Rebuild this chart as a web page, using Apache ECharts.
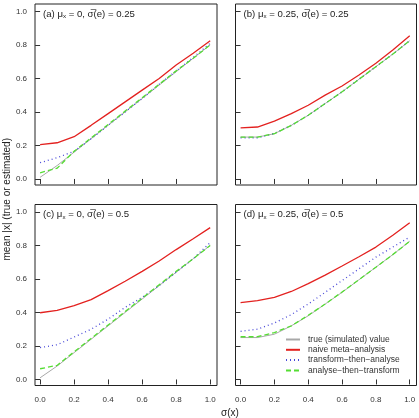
<!DOCTYPE html>
<html><head><meta charset="utf-8">
<script src="https://cdn.jsdelivr.net/npm/echarts@6/dist/echarts.min.js"></script>
<style>html,body{margin:0;padding:0;background:#fff}#c{width:419px;height:418px}</style>
</head><body><div id="c"></div>
<script>
const sigma = [0,0.1,0.2,0.3,0.4,0.5,0.6,0.7,0.8,0.9,1.0];
const tickVals = [0,0.2,0.4,0.6,0.8,1.0];
const topXTicks = [0,0.2,0.4,0.6,0.8];
const seriesNames = ['true (simulated) value','naive meta\u2212analysis','transform\u2212then\u2212analyse','analyse\u2212then\u2212transform'];
const panelTitles = ['(a) \u03bc{s|x} = 0, \u03c3\u0305(e) = 0.25','(b) \u03bc{s|x} = 0.25, \u03c3\u0305(e) = 0.25','(c) \u03bc{s|x} = 0, \u03c3\u0305(e) = 0.5','(d) \u03bc{s|x} = 0.25, \u03c3\u0305(e) = 0.5'];

const trueA  = [0.01,0.08,0.16,0.24,0.32,0.40,0.48,0.56,0.64,0.72,0.80];
const naiveA = [0.205,0.216,0.252,0.32,0.39,0.46,0.53,0.60,0.68,0.75,0.825];
const transA = [0.097,0.127,0.165,0.24,0.32,0.40,0.48,0.565,0.645,0.725,0.81];
const analA  = [0.037,0.064,0.165,0.245,0.325,0.405,0.485,0.565,0.645,0.72,0.80];

const trueB  = [0.25,0.25,0.27,0.32,0.38,0.45,0.52,0.595,0.67,0.745,0.825];
const naiveB = [0.305,0.31,0.345,0.39,0.44,0.50,0.555,0.62,0.69,0.77,0.855];
const transB = [0.245,0.245,0.272,0.32,0.38,0.45,0.52,0.595,0.67,0.745,0.825];
const analB  = [0.25,0.25,0.27,0.32,0.38,0.45,0.52,0.595,0.67,0.745,0.825];

const trueC  = [0.01,0.08,0.16,0.24,0.32,0.40,0.48,0.56,0.64,0.72,0.80];
const naiveC = [0.398,0.412,0.44,0.476,0.53,0.586,0.645,0.707,0.775,0.84,0.906];
const transC = [0.19,0.207,0.253,0.30,0.36,0.43,0.49,0.56,0.64,0.72,0.817];
const analC  = [0.064,0.084,0.165,0.245,0.325,0.405,0.485,0.565,0.645,0.72,0.80];

const trueD  = [0.25,0.25,0.27,0.32,0.38,0.45,0.52,0.595,0.67,0.745,0.825];
const naiveD = [0.458,0.47,0.49,0.525,0.572,0.623,0.677,0.732,0.79,0.86,0.935];
const transD = [0.287,0.30,0.337,0.387,0.45,0.52,0.59,0.66,0.73,0.79,0.85];
const analD  = [0.255,0.255,0.28,0.32,0.383,0.45,0.522,0.595,0.67,0.745,0.825];

const panels = [[trueA,naiveA,transA,analA],[trueB,naiveB,transB,analB],[trueC,naiveC,transC,analC],[trueD,naiveD,transD,analD]];

const FONT = 'Liberation Sans, Arial, sans-serif';
const lineStyles = [
  {color:'#a8a8a8', width:1, type:'solid'},
  {color:'#e3211f', width:1.3, type:'solid'},
  {color:'#4848d8', width:1.3, type:[1,3]},
  {color:'#55dd33', width:1.3, type:[5,3]}
];
const gridPos = [
  {left:35, top:4, width:182, height:181},
  {left:235.5, top:4, width:181, height:181},
  {left:35, top:204.5, width:182, height:181},
  {left:235.5, top:204.5, width:181, height:181}
];
const grids = [], xAxes = [], yAxes = [], series = [], graphics = [];
gridPos.forEach((g,i)=>{
  grids.push(Object.assign({show:true, borderColor:'#222', borderWidth:1, backgroundColor:'transparent'}, g));
  const bottomRow = i>=2, leftCol = (i%2===0);
  xAxes.push({type:'value', gridIndex:i, min:-0.03, max:1.04,
    axisLine:{show:false}, splitLine:{show:false},
    axisTick:{show:true, length:5, customValues: bottomRow?tickVals:topXTicks, lineStyle:{color:'#333'}},
    axisLabel:{show:bottomRow, customValues:tickVals, margin:10, fontSize:8, color:'#333', fontFamily:FONT, formatter:v=>v.toFixed(1)}
  });
  yAxes.push({type:'value', gridIndex:i, min:-0.036, max:1.044,
    axisLine:{show:false}, splitLine:{show:false},
    axisTick:{show:true, length:5, customValues:tickVals, lineStyle:{color:'#333'}},
    axisLabel:{show:leftCol, customValues:tickVals, margin:8, fontSize:8, color:'#333', fontFamily:FONT, formatter:v=>v.toFixed(1)}
  });
  panels[i].forEach((arr,k)=>{
    series.push({type:'line', name:seriesNames[k], xAxisIndex:i, yAxisIndex:i,
      data: sigma.map((s,j)=>[s,arr[j]]), symbol:'none', smooth:false,
      lineStyle:lineStyles[k], itemStyle:{color:lineStyles[k].color}, z: k===0?2:3+k, animation:false});
  });
  graphics.push({type:'text', left:g.left+8, top:g.top+5, style:{text:panelTitles[i], fontSize:9.6, fill:'#222', fontFamily:FONT,
    rich:{s:{fontSize:6.2, fill:'#222', fontFamily:FONT, padding:[5,0,0,0]}}}});
});
graphics.push({type:'text', left:2, top:138, rotation:Math.PI/2, style:{text:'mean |x| (true or estimated)', fontSize:10, fill:'#222', fontFamily:FONT}});
graphics.push({type:'text', left:221, top:408, style:{text:'\u03c3(x)', fontSize:10, fill:'#222', fontFamily:FONT}});

const chart = echarts.init(document.getElementById('c'), null, {renderer:'canvas'});
chart.setOption({
  animation:false,
  grid:grids, xAxis:xAxes, yAxis:yAxes, series:series,
  legend:{data:seriesNames, orient:'vertical', left:280, top:330, itemWidth:14, itemHeight:8, itemGap:1.3,
    itemStyle:{opacity:0},
    textStyle:{fontSize:8.5, lineHeight:8, color:'#333', fontFamily:FONT, padding:[0,0,0,3]}},
  graphic:graphics
});
</script></body></html>
